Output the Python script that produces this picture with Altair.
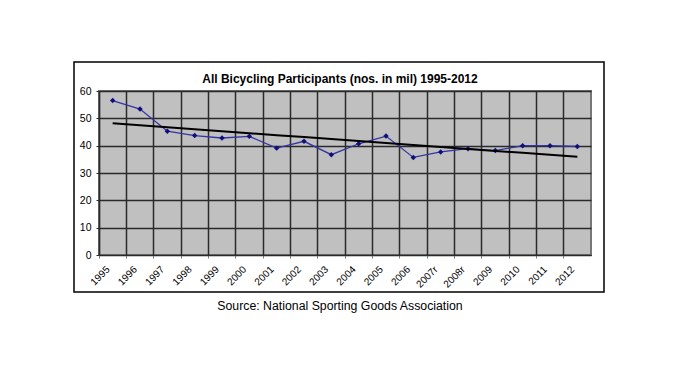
import altair as alt
import pandas as pd
import numpy as np

# ---- data ----
years = ["1995", "1996", "1997", "1998", "1999", "2000", "2001", "2002", "2003",
         "2004", "2005", "2006", "2007r", "2008r", "2009", "2010", "2011", "2012"]
participants = [56.5, 53.4, 45.3, 43.7, 42.8, 43.4, 39.1, 41.6, 36.7,
                40.7, 43.5, 35.7, 37.7, 38.9, 38.2, 40.0, 40.0, 39.7]
y_ticks = [0, 10, 20, 30, 40, 50, 60]
title_text = "All Bicycling Participants (nos. in mil) 1995-2012"
source_text = "Source: National Sporting Goods Association"

# linear trend line (least squares over the series index, like a spreadsheet trendline)
idx = np.arange(1, len(participants) + 1)
slope, intercept = np.polyfit(idx, participants, 1)
trend = list(slope * idx + intercept)

df = pd.DataFrame({"year": years, "value": participants, "trend": trend})

FONT = "Liberation Sans"
W, H = 492, 164
GRID = "#2a2a2a"

x_axis = alt.Axis(
    title=None,
    bandPosition=0,
    grid=True,
    gridColor=GRID,
    gridWidth=1.5,
    domainColor=GRID,
    domainWidth=1.2,
    tickColor="#777777",
    tickSize=3,
    labelAngle=-45,
    labelAlign="right",
    labelBaseline="top",
    labelOffset=-8,
    labelPadding=6,
    labelOverlap=False,
    labelFont=FONT,
    labelFontSize=10,
    labelColor="#000000",
)
y_axis = alt.Axis(
    title=None,
    values=y_ticks,
    grid=True,
    gridColor=GRID,
    gridWidth=1.5,
    domainColor=GRID,
    domainWidth=1.2,
    tickColor=GRID,
    tickSize=3,
    labelPadding=5,
    labelOverlap=False,
    labelFont=FONT,
    labelFontSize=10.5,
    labelColor="#000000",
)
x_scale = alt.Scale(type="band", paddingInner=0, paddingOuter=0)
y_scale = alt.Scale(domain=[0, 60], nice=False)


def xe():
    return alt.X("year:N", sort=years, scale=x_scale, bandPosition=0.5, axis=x_axis)


def ye(field):
    return alt.Y(f"{field}:Q", scale=y_scale, axis=y_axis)


base = alt.Chart(df)

series = base.mark_line(
    color="#3434a6",
    strokeWidth=1.3,
    point=alt.OverlayMarkDef(shape="diamond", size=30, filled=True, color="#10107c", opacity=1),
).encode(x=xe(), y=ye("value"))

trend_line = base.mark_line(color="#000000", strokeWidth=2).encode(x=xe(), y=ye("trend"))

one = alt.Data(values=[{"k": 1}])

border = alt.Chart(one).mark_rect(filled=False, stroke="#000000", strokeWidth=1.5).encode(
    x=alt.value(-25), x2=alt.value(505), y=alt.value(-29), y2=alt.value(201)
)

title = alt.Chart(one).mark_text(
    text=title_text, font=FONT, fontSize=12, fontWeight="bold", color="#000000",
    align="center", baseline="alphabetic",
).encode(x=alt.value(241), y=alt.value(-8))

source = alt.Chart(one).mark_text(
    text=source_text, font=FONT, fontSize=12.3, color="#000000",
    align="center", baseline="alphabetic",
).encode(x=alt.value(241), y=alt.value(219))

chart = alt.layer(series, trend_line, border, title, source).properties(
    width=W,
    height=H,
    autosize=alt.AutoSizeParams(type="none"),
    padding={"left": 91, "top": 83, "right": 30, "bottom": 80},
).configure_view(
    fill="#C0C0C0", stroke="#777777", strokeWidth=2
)

chart.save("out.html", embed_options={"renderer": "svg", "actions": False})
